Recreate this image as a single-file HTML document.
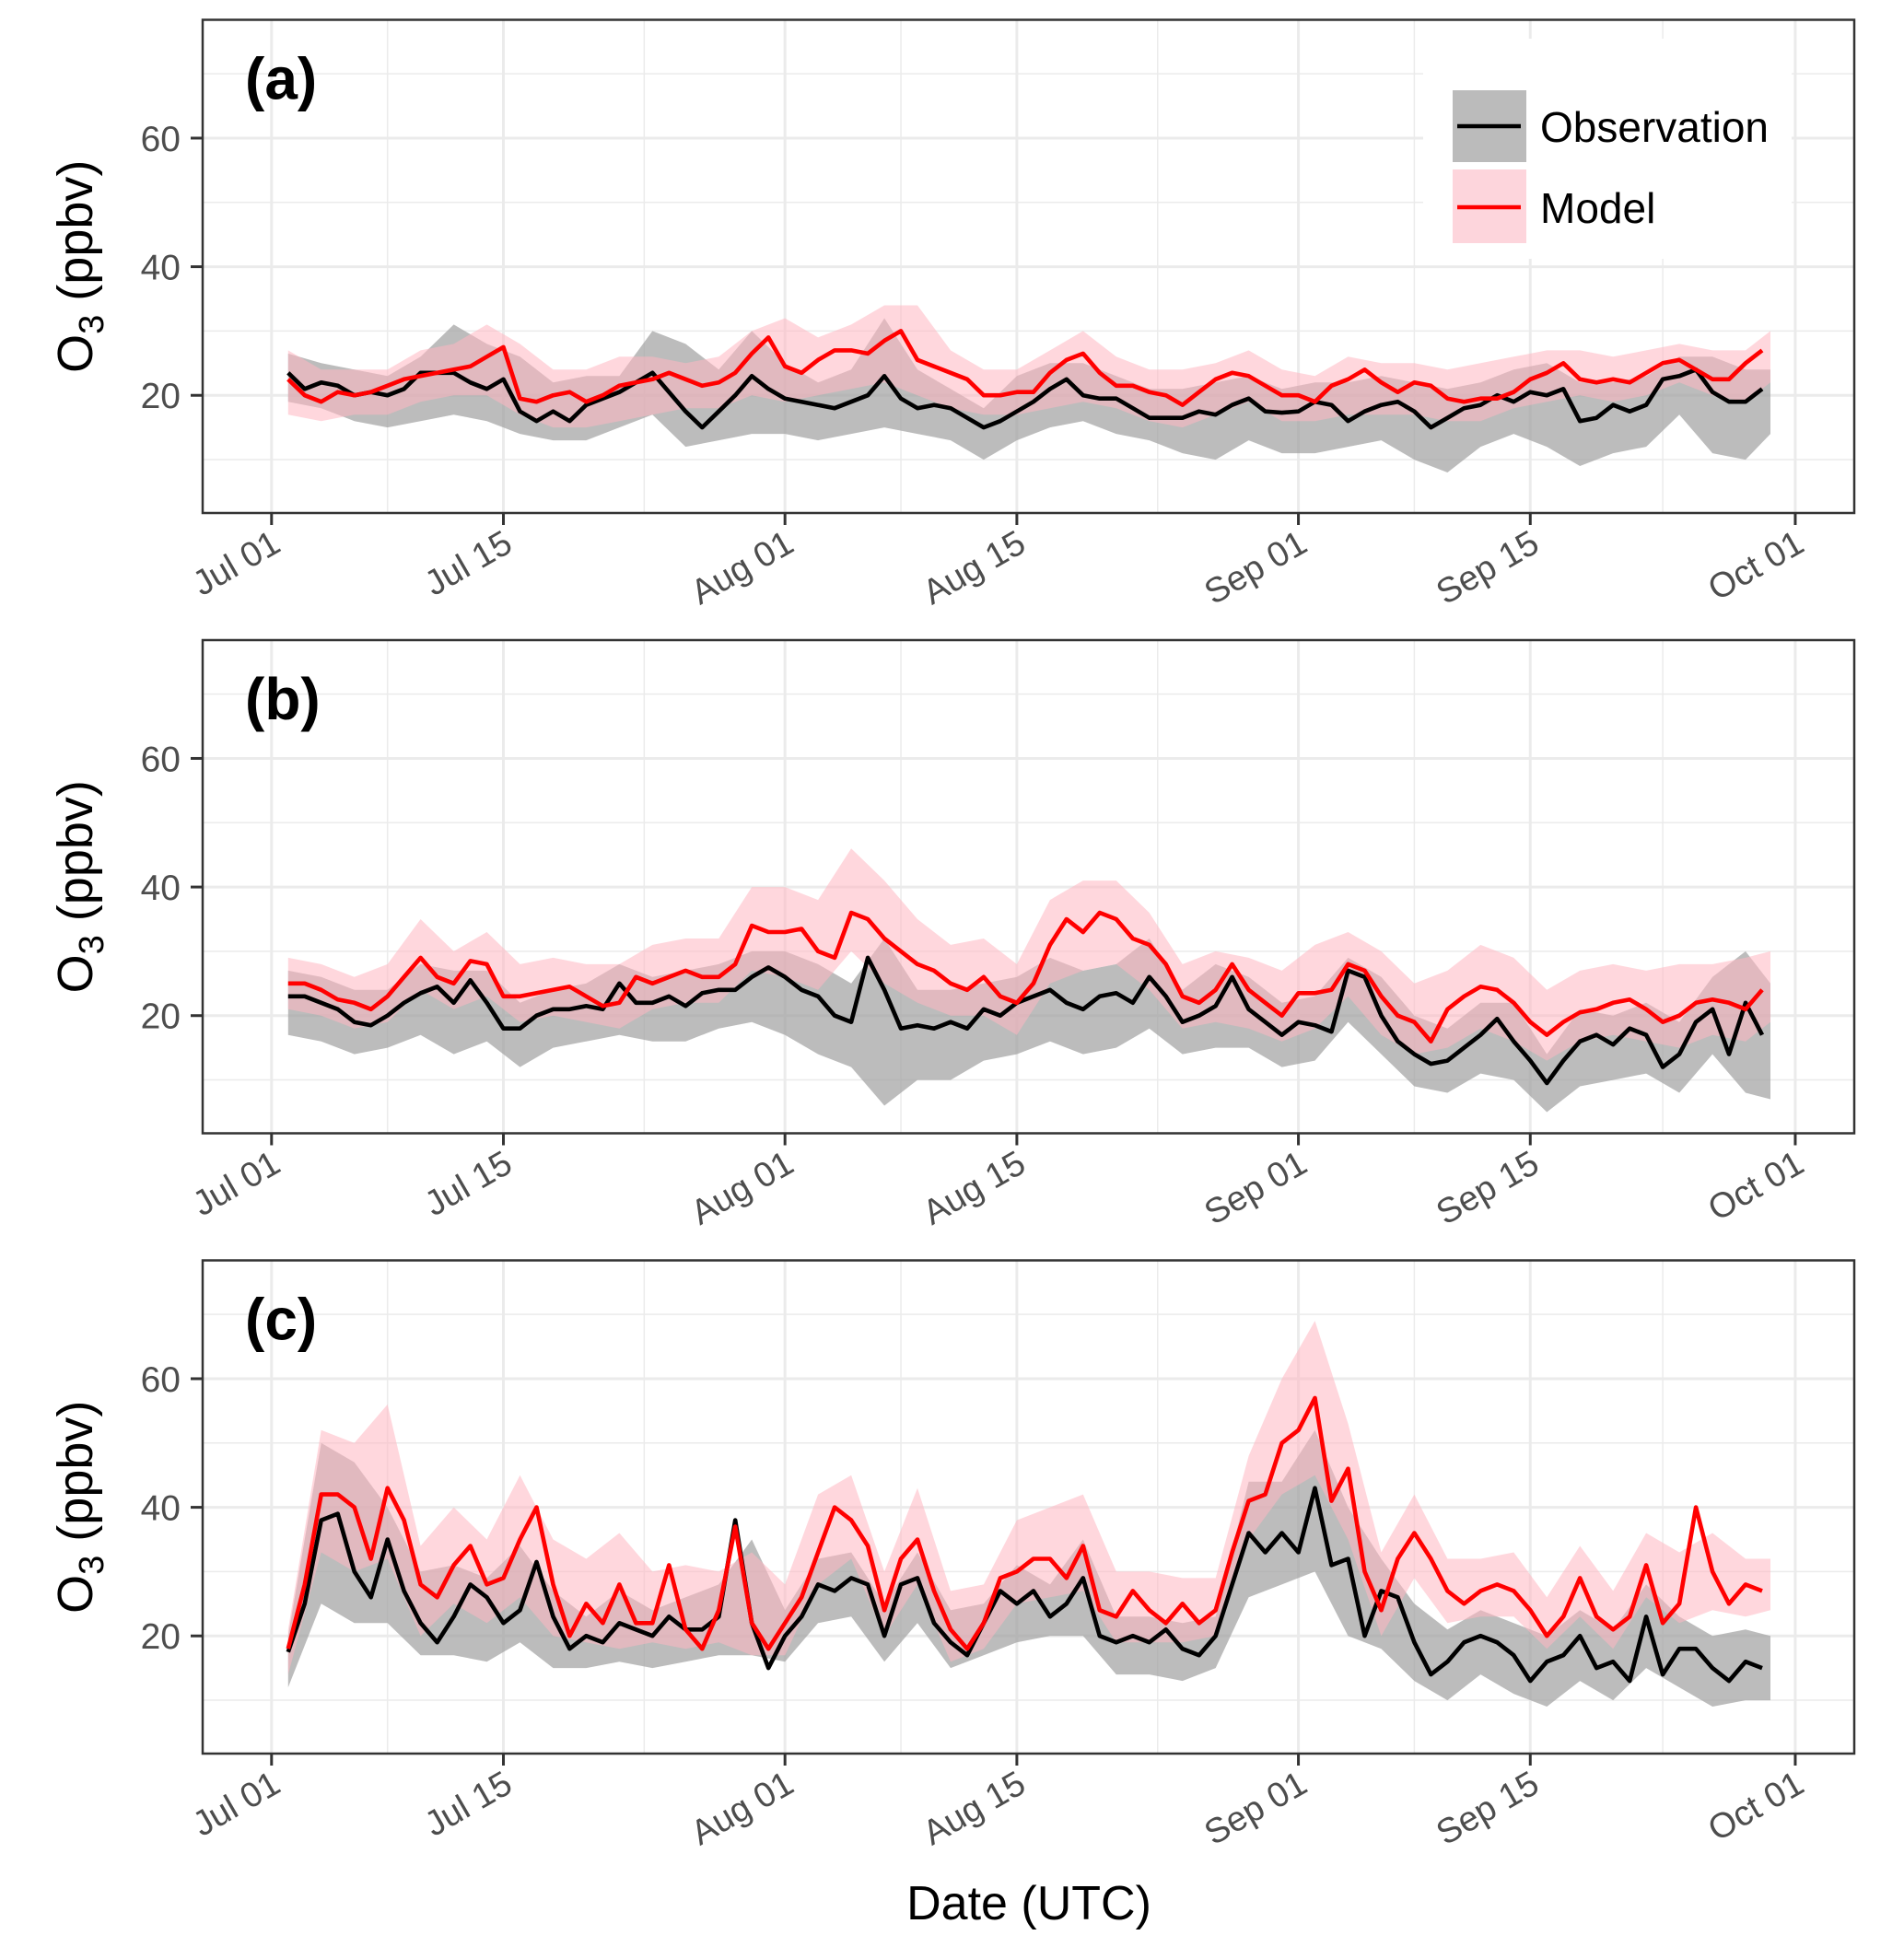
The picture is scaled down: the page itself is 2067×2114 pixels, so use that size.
<!DOCTYPE html>
<html><head><meta charset="utf-8"><style>
html,body{margin:0;padding:0;background:#fff}
svg{display:block;font-family:"Liberation Sans",sans-serif}
</style></head><body>
<svg id="fig" width="2067" height="2114" viewBox="0 0 2067 2114" xmlns="http://www.w3.org/2000/svg">
<rect width="2067" height="2114" fill="#fff"/>
<text x="1117" y="2084" font-size="52" text-anchor="middle" fill="#000">Date (UTC)</text>
</svg>
<script>
const lineDays=[1,2,3,4,5,6,7,8,9,10,11,12,13,14,15,16,17,18,19,20,21,22,23,24,25,26,27,28,29,30,31,32,33,34,35,36,37,38,39,40,41,42,43,44,45,46,47,48,49,50,51,52,53,54,55,56,57,58,59,60,61,62,63,64,65,66,67,68,69,70,71,72,73,74,75,76,77,78,79,80,81,82,83,84,85,86,87,88,89,90];
const bandDays=[1,3,5,7,9,11,13,15,17,19,21,23,25,27,29,31,33,35,37,39,41,43,45,47,49,51,53,55,57,59,61,63,65,67,69,71,73,75,77,79,81,83,85,87,89,90.5];
const xTickDays=[0,14,31,45,62,76,92];
const xTickLabels=["Jul 01","Jul 15","Aug 01","Aug 15","Sep 01","Sep 15","Oct 01"];
const xMinorDays=[7,22.5,38,53.5,69,84];
const yTicks=[20,40,60];
const yMinor=[10,30,50,70];
const panelLabels=["(a)","(b)","(c)"];

const obsA=[23.5,21,22,21.5,20,20.5,20,21,23.5,23.5,23.5,22,21,22.5,17.5,16,17.5,16,18.5,19.5,20.5,22,23.5,20.5,17.5,15,17.5,20,23,21,19.5,19,18.5,18,19,20,23,19.5,18,18.5,18,16.5,15,16,17.5,19,21,22.5,20,19.5,19.5,18,16.5,16.5,16.5,17.5,17,18.5,19.5,17.5,17.3,17.5,19,18.5,16,17.5,18.5,19,17.5,15,16.5,18,18.5,20,19,20.5,20,21,16,16.5,18.5,17.5,18.5,22.5,23,24,20.5,19,19,21];
const modA=[22.5,20,19,20.5,20,20.5,21.5,22.5,23,23.5,24,24.5,26,27.5,19.5,19,20,20.5,19,20,21.5,22,22.5,23.5,22.5,21.5,22,23.5,26.5,29,24.5,23.5,25.5,27,27,26.5,28.5,30,25.5,24.5,23.5,22.5,20,20,20.5,20.5,23.5,25.5,26.5,23.5,21.5,21.5,20.5,20,18.5,20.5,22.5,23.5,23,21.5,20,20,19,21.5,22.5,24,22,20.5,22,21.5,19.5,19,19.5,19.5,20.5,22.5,23.5,25,22.5,22,22.5,22,23.5,25,25.5,24,22.5,22.5,25,27];
const obsALo=[19,18,16,15,16,17,16,14,13,13,15,17,12,13,14,14,13,14,15,14,13,10,13,15,16,14,13,11,10,13,11,11,12,13,10,8,12,14,12,9,11,12,17,11,10,14];
const obsAHi=[26.5,25,24,23,26,31,28,26,22,23,23,30,28,24,30,25,22,24,32,24,21,18,23,25,25,23,21,21,22,23,21,22,22,23,22,21,22,24,25,22,22,23,26,26,24,24];
const modALo=[17,16,17,17,19,20,20,17,15,15,16,17,18,18,20,19,20,21,22,20,18,17,17,18,19,18,16,15,17,19,16,16,17,17,17,16,16,18,19,20,19,20,22,20,19,22];
const modAHi=[27,24,24,24,27,28,31,28,24,24,26,26,25,26,30,32,29,31,34,34,27,24,24,27,30,26,24,24,25,27,24,23,26,25,25,24,25,26,27,27,26,27,28,27,27,30];

const obsB=[23,23,22,21,19,18.5,20,22,23.5,24.5,22,25.5,22,18,18,20,21,21,21.5,21,25,22,22,23,21.5,23.5,24,24,26,27.5,26,24,23,20,19,29,24,18,18.5,18,19,18,21,20,22,23,24,22,21,23,23.5,22,26,23,19,20,21.5,26,21,19,17,19,18.5,17.5,27,26,20,16,14,12.5,13,15,17,19.5,16,13,9.5,13,16,17,15.5,18,17,12,14,19,21,14,22,17];
const modB=[25,25,24,22.5,22,21,23,26,29,26,25,28.5,28,23,23,23.5,24,24.5,23,21.5,22,26,25,26,27,26,26,28,34,33,33,33.5,30,29,36,35,32,30,28,27,25,24,26,23,22,25,31,35,33,36,35,32,31,28,23,22,24,28,24,22,20,23.5,23.5,24,28,27,23,20,19,16,21,23,24.5,24,22,19,17,19,20.5,21,22,22.5,21,19,20,22,22.5,22,21,24];
const obsBLo=[17,16,14,15,17,14,16,12,15,16,17,16,16,18,19,17,14,12,6,10,10,13,14,16,14,15,18,14,15,15,12,13,19,14,9,8,11,10,5,9,10,11,8,14,8,7];
const obsBHi=[27,26,24,24,28,27,27,22,24,25,28,26,27,28,30,30,28,25,32,24,24,25,26,29,27,28,32,24,28,26,22,23,29,26,20,18,22,22,14,21,20,22,19,26,30,25];
const modBLo=[21,20,18,19,24,21,23,19,20,19,18,21,22,22,27,26,24,30,25,22,20,20,17,25,27,28,24,18,19,18,16,18,23,17,14,15,18,16,13,16,17,16,15,17,16,19];
const modBHi=[29,28,26,28,35,30,33,28,29,28,28,31,32,32,40,40,38,46,41,35,31,32,28,38,41,41,36,28,30,29,27,31,33,30,25,27,31,29,24,27,28,27,28,28,29,30];

const obsC=[17.5,25,38,39,30,26,35,27,22,19,23,28,26,22,24,31.5,23,18,20,19,22,21,20,23,21,21,23,38,22,15,20,23,28,27,29,28,20,28,29,22,19,17,22,27,25,27,23,25,29,20,19,20,19,21,18,17,20,28,36,33,36,33,43,31,32,20,27,26,19,14,16,19,20,19,17,13,16,17,20,15,16,13,23,14,18,18,15,13,16,15];
const modC=[18,28,42,42,40,32,43,38,28,26,31,34,28,29,35,40,28,20,25,22,28,22,22,31,21,18,24,37,22,18,22,26,33,40,38,34,24,32,35,27,21,18,22,29,30,32,32,29,34,24,23,27,24,22,25,22,24,33,41,42,50,52,57,41,46,30,24,32,36,32,27,25,27,28,27,24,20,23,29,23,21,23,31,22,25,40,30,25,28,27];
const obsCLo=[12,25,22,22,17,17,16,19,15,15,16,15,16,17,17,16,22,23,16,22,15,17,19,20,20,14,14,13,15,26,28,30,20,18,13,10,14,11,9,13,10,15,12,9,10,10];
const obsCHi=[20,50,47,40,30,31,29,34,27,23,27,24,26,28,35,24,32,33,25,33,24,25,31,28,35,23,23,22,23,44,44,52,40,32,25,21,24,22,20,24,21,28,23,20,21,20];
const modCLo=[14,33,30,32,20,25,22,26,20,19,18,19,18,19,17,17,28,32,20,28,16,18,25,26,27,19,19,19,20,35,42,45,35,20,29,22,23,23,18,23,18,26,22,24,23,24];
const modCHi=[21,52,50,56,34,40,35,45,35,32,36,30,31,30,33,28,42,45,30,43,27,28,38,40,42,30,30,29,29,48,60,69,53,33,42,32,32,33,26,34,27,36,33,36,32,32];

const NS="http://www.w3.org/2000/svg";
const svg=document.getElementById("fig");
const L=220,R=2013,PH=535.5,tops=[21.5,695,1368.5];
const yMin=1.7,yMax=78.4;
function xS(d){return 294.8+17.98*d;}
function yS(v,top){return top+PH-(v-yMin)/(yMax-yMin)*PH;}
function mk(tag,attrs,parent){const e=document.createElementNS(NS,tag);for(const k in attrs)e.setAttribute(k,attrs[k]);(parent||svg).appendChild(e);return e;}
function linePath(days,vals,top){return days.map((d,i)=>(i?"L":"M")+xS(d).toFixed(1)+","+yS(vals[i],top).toFixed(1)).join("");}
function bandPath(days,lo,hi,top){let p=days.map((d,i)=>(i?"L":"M")+xS(d).toFixed(1)+","+yS(hi[i],top).toFixed(1)).join("");for(let i=days.length-1;i>=0;i--)p+="L"+xS(days[i]).toFixed(1)+","+yS(lo[i],top).toFixed(1);return p+"Z";}

const panels=[
 {obs:obsA,mod:modA,oLo:obsALo,oHi:obsAHi,mLo:modALo,mHi:modAHi},
 {obs:obsB,mod:modB,oLo:obsBLo,oHi:obsBHi,mLo:modBLo,mHi:modBHi},
 {obs:obsC,mod:modC,oLo:obsCLo,oHi:obsCHi,mLo:modCLo,mHi:modCHi}];

panels.forEach((P,pi)=>{
 const top=tops[pi],bot=top+PH;
 const g=mk("g",{});
 
 
 yMinor.forEach(v=>{const l=mk("line",{x1:L,x2:R,y1:yS(v,top),y2:yS(v,top),stroke:"#ebebeb","stroke-width":1.5},g);
  
  });
 xMinorDays.forEach(d=>{const l=mk("line",{x1:xS(d),x2:xS(d),y1:top,y2:bot,stroke:"#ebebeb","stroke-width":1.5},g);
  
  });
 yTicks.forEach(v=>{const l=mk("line",{x1:L,x2:R,y1:yS(v,top),y2:yS(v,top),stroke:"#ebebeb","stroke-width":3},g);
  
  });
 xTickDays.forEach(d=>{const l=mk("line",{x1:xS(d),x2:xS(d),y1:top,y2:bot,stroke:"#ebebeb","stroke-width":3},g);
  
  });
 if(pi===0){
  const lb=mk("rect",{x:1545,y:42,width:400,height:239,fill:"#fff"},g);
  
  
 }
 const ob=mk("path",{d:bandPath(bandDays,P.oLo,P.oHi,top),fill:"#a0a0a0","fill-opacity":0.7},g);
 
 
 const mb=mk("path",{d:bandPath(bandDays,P.mLo,P.mHi,top),fill:"#ffb6c1","fill-opacity":0.55},g);
 
 
 const ol=mk("path",{d:linePath(lineDays,P.obs,top),fill:"none",stroke:"#000","stroke-width":4.6,"stroke-linejoin":"round"},g);
 
 
 const ml=mk("path",{d:linePath(lineDays,P.mod,top),fill:"none",stroke:"#ff0000","stroke-width":4.6,"stroke-linejoin":"round"},g);
 
 
 const fr=mk("rect",{x:L,y:top,width:R-L,height:PH,fill:"none",stroke:"#333","stroke-width":2.5},g);
 
 
 yTicks.forEach(v=>{const y=yS(v,top);
  const t=mk("line",{x1:L-13,x2:L,y1:y,y2:y,stroke:"#333","stroke-width":3},g);
  
  
  const tx=mk("text",{x:L-24,y:y+14,"font-size":39,fill:"#4d4d4d","text-anchor":"end"},g);
  tx.textContent=v;
  
  });
 xTickDays.forEach((d,i)=>{const x=xS(d);
  const t=mk("line",{x1:x,x2:x,y1:bot,y2:bot+13,stroke:"#333","stroke-width":3},g);
  
  
  const tx=mk("text",{x:x+12,y:bot+40,"font-size":38,fill:"#4d4d4d","text-anchor":"end",transform:"rotate(-30 "+(x+12)+" "+(bot+40)+")"},g);
  tx.textContent=xTickLabels[i];
  
  });
 const yt=mk("text",{x:0,y:0,"font-size":54,fill:"#000","text-anchor":"middle",transform:"translate(100,"+(top+PH/2)+") rotate(-90)"},g);
 yt.innerHTML='O<tspan font-size="38" dy="12">3</tspan><tspan dy="-12"> (ppbv)</tspan>';
 
 
 const pl=mk("text",{x:266,y:top+86,"font-size":64,"font-weight":"bold",fill:"#000","font-family":"Liberation Sans Narrow, Liberation Sans, sans-serif"},g);
 pl.textContent=panelLabels[pi];
 
 
});

const lg=mk("g",{});


const k1=mk("rect",{x:1577,y:98,width:80,height:78,fill:"#bbbbbb"},lg);


const k1l=mk("line",{x1:1582,x2:1651,y1:137,y2:137,stroke:"#000","stroke-width":4.5},lg);


const t1=mk("text",{x:1672,y:154,"font-size":46,fill:"#000"},lg);
t1.textContent="Observation";


const k2=mk("rect",{x:1577,y:184,width:80,height:80,fill:"#fdd5dc"},lg);


const k2l=mk("line",{x1:1582,x2:1651,y1:225,y2:225,stroke:"#ff0000","stroke-width":4.5},lg);


const t2=mk("text",{x:1672,y:242,"font-size":46,fill:"#000"},lg);
t2.textContent="Model";


</script>
</body></html>
